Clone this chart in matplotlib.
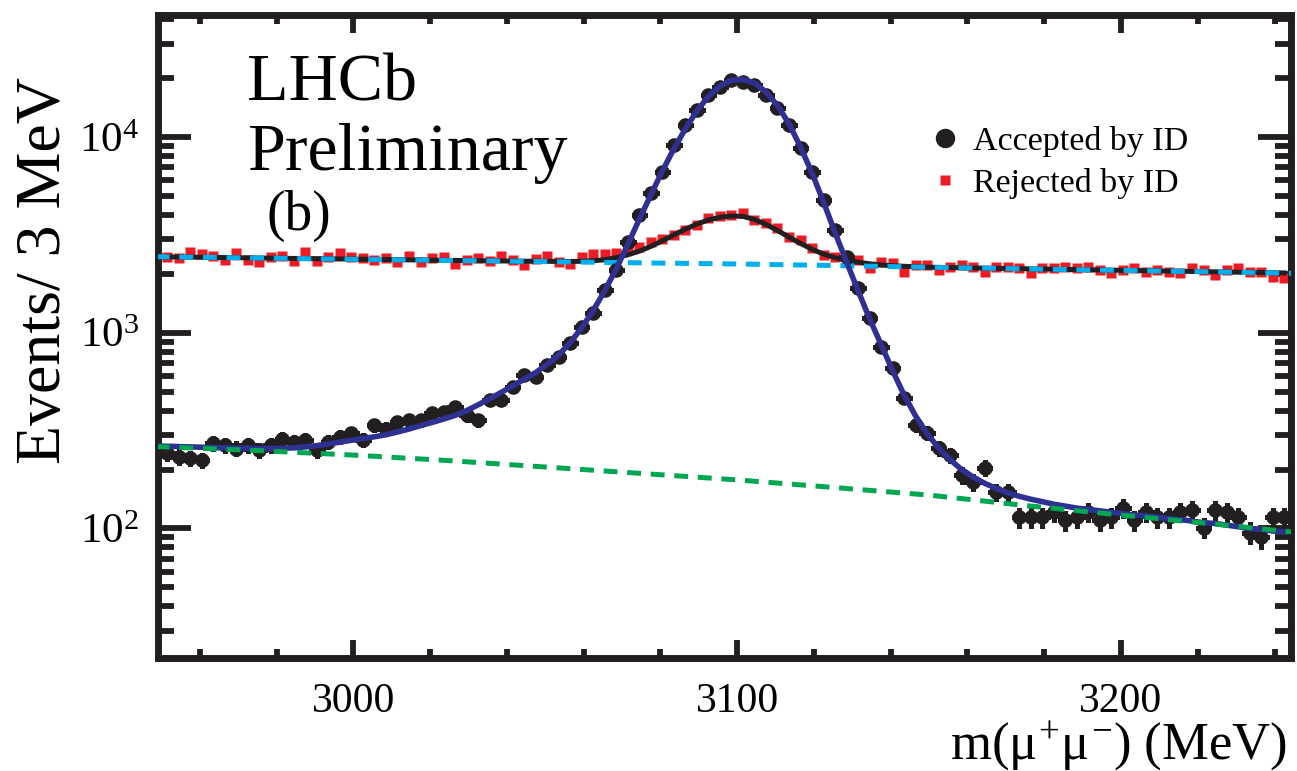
import numpy as np
import matplotlib
matplotlib.use('Agg')
import matplotlib.pyplot as plt
from matplotlib.ticker import MultipleLocator, LogLocator, NullFormatter
from matplotlib.lines import Line2D

plt.rcParams['font.family'] = 'Liberation Serif'
plt.rcParams['mathtext.fontset'] = 'custom'
plt.rcParams['mathtext.rm'] = 'Liberation Serif'
plt.rcParams['mathtext.it'] = 'Liberation Serif'
plt.rcParams['lines.scale_dashes'] = False

# dimuon mass, 3 MeV bins (bin centres)
mass = np.arange(2951.5, 3243.0, 3.0)

# events per bin, muon ID accepted
accepted = [243, 232, 228, 223, 272, 266, 256, 266, 251, 266,
            288, 277, 283, 251, 277, 294, 306, 283, 337, 324,
            350, 358, 358, 387, 394, 418, 379, 358, 452, 452,
            529, 607, 595, 683, 753, 882, 1072, 1255, 1651, 2089,
            2913, 3990, 5150, 6640, 9090, 11500, 13720, 16370, 18050, 19530,
            19140, 18420, 16370, 14000, 11500, 8744, 6640, 4760, 3344, 2442,
            1684, 1183, 847, 657, 463, 337, 307, 257, 237, 187,
            172, 203, 153, 153, 114, 114, 114, 121, 110, 114,
            121, 110, 114, 127, 110, 121, 114, 114, 121, 124,
            101, 124, 121, 114, 95, 90, 114, 114]

# events per bin, muon ID rejected
rejected = [2444, 2397, 2572, 2512, 2474, 2350, 2542, 2350, 2305, 2444,
            2474, 2323, 2572, 2323, 2444, 2542, 2444, 2397, 2350, 2397,
            2287, 2474, 2305, 2397, 2444, 2234, 2350, 2397, 2323, 2474,
            2350, 2216, 2370, 2480, 2305, 2240, 2430, 2525, 2515, 2555,
            2680, 2745, 2915, 3000, 3154, 3350, 3550, 3838, 3945, 3980,
            4085, 3762, 3619, 3412, 3091, 2973, 2696, 2493, 2444, 2397,
            2350, 2131, 2305, 2259, 2049, 2216, 2216, 2090, 2173, 2216,
            2173, 2049, 2172, 2172, 2131, 2009, 2131, 2131, 2172, 2131,
            2172, 2089, 2009, 2089, 2131, 2047, 2089, 2047, 2009, 2131,
            2089, 1970, 2089, 2131, 2047, 2047, 1931, 1895]

# fitted totals
fit_mass = np.arange(2948.5, 3244.0, 3.0)
fit_accepted = [264, 263, 262, 261, 260, 259, 258, 257, 257, 256,
                256, 257, 258, 261, 265, 270, 276, 282, 288, 294,
                301, 311, 322, 335, 348, 362, 378, 400, 428, 460,
                495, 535, 578, 625, 690, 770, 890, 1060, 1300, 1640,
                2120, 2820, 3800, 5050, 6700, 8700, 11000, 13600, 16100, 18200,
                19500, 19700, 18900, 17000, 14500, 11700, 8900, 6550, 4650, 3250,
                2300, 1640, 1180, 870, 640, 480, 375, 305, 257, 224,
                200, 183, 170, 160, 152, 146, 141, 137, 133, 130,
                127, 125, 123, 121, 119, 117, 116, 114, 112, 111,
                109, 107, 106, 104, 102, 100, 99, 97, 96]
fit_rejected = [2445, 2441, 2437, 2433, 2429, 2425, 2421, 2417, 2413, 2409,
                2405, 2401, 2397, 2393, 2389, 2385, 2381, 2377, 2373, 2369,
                2365, 2361, 2357, 2353, 2349, 2345, 2341, 2337, 2333, 2329,
                2326, 2323, 2320, 2318, 2316, 2314, 2314, 2317, 2332, 2360,
                2420, 2500, 2610, 2760, 2950, 3160, 3380, 3590, 3770, 3890,
                3950, 3930, 3790, 3580, 3330, 3080, 2860, 2670, 2520, 2420,
                2345, 2295, 2250, 2220, 2200, 2185, 2172, 2163, 2157, 2152,
                2148, 2143, 2138, 2134, 2129, 2125, 2120, 2116, 2111, 2106,
                2102, 2097, 2093, 2088, 2084, 2079, 2074, 2070, 2065, 2061,
                2056, 2051, 2047, 2042, 2038, 2033, 2029, 2024, 2020]

# background components
bkg_mass = [2948.5, 2975, 3000, 3025, 3050, 3075, 3100, 3125, 3150, 3175, 3200, 3225, 3244.3]
bkg_accepted = [262, 250, 237, 222, 206, 191, 177, 162, 148, 131, 117, 105, 96]
bkg_rejected = [2445, 2408, 2372, 2340, 2308, 2275, 2245, 2205, 2160, 2120, 2082, 2045, 2012]

black = '#231f20'
blue = '#2e3192'
red = '#ed1c24'
cyan = '#00aeef'
green = '#00a651'

fig = plt.figure(figsize=(12.97, 7.71), dpi=100)
ax = fig.add_axes([0.1221, 0.1472, 0.8733, 0.8333])
ax.set_yscale('log')

ax.plot(mass, rejected, 's', color=red, ms=7.6, mec='none', zorder=2)
ax.plot(fit_mass, fit_rejected, '-', color=black, lw=3.6, zorder=3)
ax.plot(bkg_mass, bkg_rejected, color=cyan, lw=3.6, dashes=(10, 7), zorder=4)

eb = ax.errorbar(mass, accepted, xerr=1.5, yerr=np.sqrt(accepted), fmt='o',
                 color=black, ms=9.5, elinewidth=3.6, capsize=0, zorder=5)
for lc in eb.lines[2]:
    lc.set_capstyle('projecting')

ax.plot(fit_mass, fit_accepted, color=blue, lw=4.0, zorder=6)
ax.plot(bkg_mass, bkg_accepted, color=green, lw=3.6, dashes=(10, 7), zorder=7)

ax.set_xlim(2949.2, 3244.3)
ax.set_ylim(21.9, 42000)

ax.xaxis.set_major_locator(MultipleLocator(100))
ax.xaxis.set_minor_locator(MultipleLocator(20))
ax.yaxis.set_major_locator(LogLocator(base=10))
ax.yaxis.set_minor_locator(LogLocator(base=10, subs=np.arange(2, 10)))
ax.yaxis.set_minor_formatter(NullFormatter())

for s in ax.spines.values():
    s.set_linewidth(5)
    s.set_color(black)
ax.tick_params(which='both', direction='in', top=True, right=True, width=4.2, color=black)
ax.tick_params(axis='x', which='major', length=13, labelsize=30, pad=18)
ax.tick_params(axis='x', which='minor', length=6.5)
ax.tick_params(axis='y', which='major', length=23.5, labelsize=31, pad=14)
ax.tick_params(axis='y', which='minor', length=11.5)

fig.text(1287 / 1297, 1 - 759 / 771, r'm($\mu^{+}\mu^{-}$) (MeV)', ha='right', va='baseline', fontsize=38)
fig.text(45 / 1297, 1 - 270 / 771, 'Events/ 3 MeV', rotation=90, ha='center', va='center', fontsize=46)

ax.text(0.078, 0.8677, 'LHCb', transform=ax.transAxes, fontsize=49, va='baseline')
ax.text(0.078, 0.7588, 'Preliminary', transform=ax.transAxes, fontsize=49, va='baseline')
ax.text(0.0957, 0.6654, '(b)', transform=ax.transAxes, fontsize=40, va='baseline')

h1 = Line2D([], [], ls='none', marker='o', ms=13, color=black)
h2 = Line2D([], [], ls='none', marker='s', ms=7.5, color=red, mec='none')
ax.legend([h1, h2], ['Accepted by ID', 'Rejected by ID'], loc='upper left',
          bbox_to_anchor=(0.6825, 0.8273), frameon=False, fontsize=24.5,
          handlelength=0.8, handletextpad=0.42, labelspacing=0.32,
          borderpad=0, borderaxespad=0)

plt.savefig('out.png', dpi=100)
